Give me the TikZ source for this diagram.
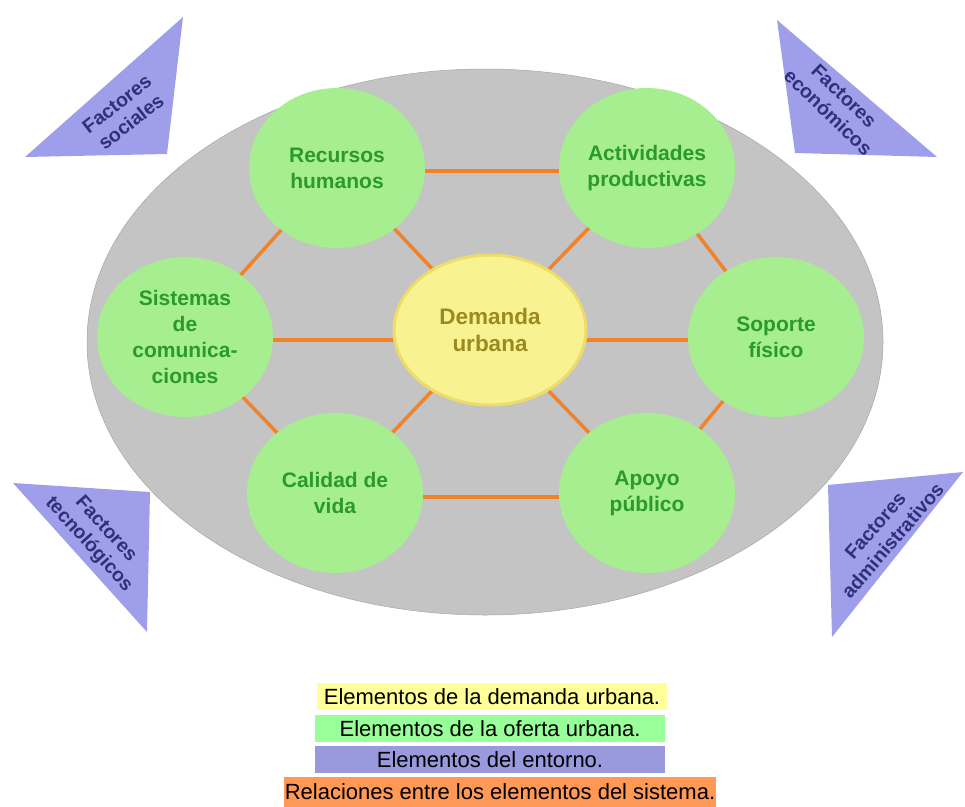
\documentclass[tikz,border=0pt]{standalone}
\usepackage{fontspec}
\setmainfont{Liberation Sans}
\usetikzlibrary{shapes.geometric}
\definecolor{grayfill}{HTML}{C4C4C4}
\definecolor{greenfill}{HTML}{A6EE90}
\definecolor{greentext}{HTML}{2A9A2A}
\definecolor{yellowfill}{HTML}{F8F290}
\definecolor{yellowedge}{HTML}{EDDC6A}
\definecolor{yellowtext}{HTML}{9A8A20}
\definecolor{orangeline}{HTML}{F0832A}
\definecolor{trifill}{HTML}{9E9EEA}
\definecolor{tritext}{HTML}{30307A}
\definecolor{legyellow}{HTML}{FFFF99}
\definecolor{leggreen}{HTML}{99FF99}
\definecolor{legpurple}{HTML}{9999DD}
\definecolor{legorange}{HTML}{FF9955}
\tikzset{
  offer/.style={ellipse, fill=greenfill, minimum width=176pt, minimum height=160pt, inner sep=0pt, align=center, text=greentext, font=\fontsize{21}{26}\selectfont\bfseries},
  demand/.style={ellipse, fill=yellowfill, draw=yellowedge, line width=3pt, minimum width=192pt, minimum height=150pt, inner sep=0pt, align=center, text=yellowtext, font=\fontsize{22.5}{27}\selectfont\bfseries},
  rel/.style={orangeline, line width=3.5pt},
  tri/.style={fill=trifill},
  tritxt/.style={text=tritext, align=center, inner sep=0pt, font=\fontsize{19.5}{23}\selectfont\bfseries},
  leg/.style={anchor=center, inner sep=0pt, minimum height=27pt, font=\fontsize{22}{24}\selectfont}
}
\begin{document}
\begin{tikzpicture}[x=1pt,y=-1pt]
\useasboundingbox (0,0) rectangle (965,806);
% system ellipse
\node[ellipse, fill=grayfill, draw=gray!70, line width=0.5pt, minimum width=796pt, minimum height=546pt, inner sep=0pt] (sys) at (485,342) {};
% environment triangles
\fill[tri] (25,157) -- (183,17) -- (167,154) -- cycle;
\node[tritxt, rotate=38] (fs) at (124,113) {Factores\\sociales};
\fill[tri] (777,20) -- (795,153) -- (937,157) -- cycle;
\node[tritxt, rotate=-44] (fe) at (836,104) {Factores\\económicos};
\fill[tri] (13,483) -- (150,492) -- (147,632) -- cycle;
\node[tritxt, rotate=-48] (ft) at (97,537) {Factores\\tecnológicos};
\fill[tri] (828,485) -- (963,472) -- (832,637) -- cycle;
\node[tritxt, rotate=49] (fa) at (884,533) {Factores\\administrativos};
% node positions
\coordinate (rhc) at (337,168);
\coordinate (apc) at (647,168);
\coordinate (scc) at (185,337);
\coordinate (sfc) at (776,337);
\coordinate (cvc) at (335,493);
\coordinate (puc) at (647,493);
\coordinate (duc) at (490,330);
% relations (behind the elements)
\draw[rel] ([yshift=-3pt]rhc) -- ([yshift=-3pt]apc);
\draw[rel] ([yshift=-4pt]cvc) -- ([yshift=-4pt]puc);
\draw[rel] ([yshift=-3pt]scc) -- ([yshift=-3pt]sfc);
\draw[rel] (rhc) -- (duc);
\draw[rel] (apc) -- (duc);
\draw[rel] (cvc) -- (duc);
\draw[rel] (puc) -- (duc);
\draw[rel] (rhc) -- (scc);
\draw[rel] (apc) -- (sfc);
\draw[rel] (scc) -- (cvc);
\draw[rel] (sfc) -- (puc);
% elements
\node[offer] (rh) at (rhc) {Recursos\\humanos};
\node[offer] (ap) at (apc) {Actividades\\productivas};
\node[offer] (sc) at (scc) {Sistemas\\de\\comunica-\\ciones};
\node[offer] (sf) at (sfc) {Soporte\\físico};
\node[offer] (cv) at (cvc) {Calidad de\\vida};
\node[offer] (pu) at (puc) {Apoyo\\público};
\node[demand] (du) at (duc) {Demanda\\urbana};
% legend
\node[leg, fill=legyellow, minimum width=350pt] (l1) at (492,696.5) {Elementos de la demanda urbana.};
\node[leg, fill=leggreen, minimum width=350pt] (l2) at (490,728.5) {Elementos de la oferta urbana.};
\node[leg, fill=legpurple, minimum width=350pt] (l3) at (490,759.5) {Elementos del entorno.};
\node[leg, fill=legorange, minimum width=432pt, minimum height=30pt] (l4) at (500,792) {Relaciones entre los elementos del sistema.};
\end{tikzpicture}
\end{document}
